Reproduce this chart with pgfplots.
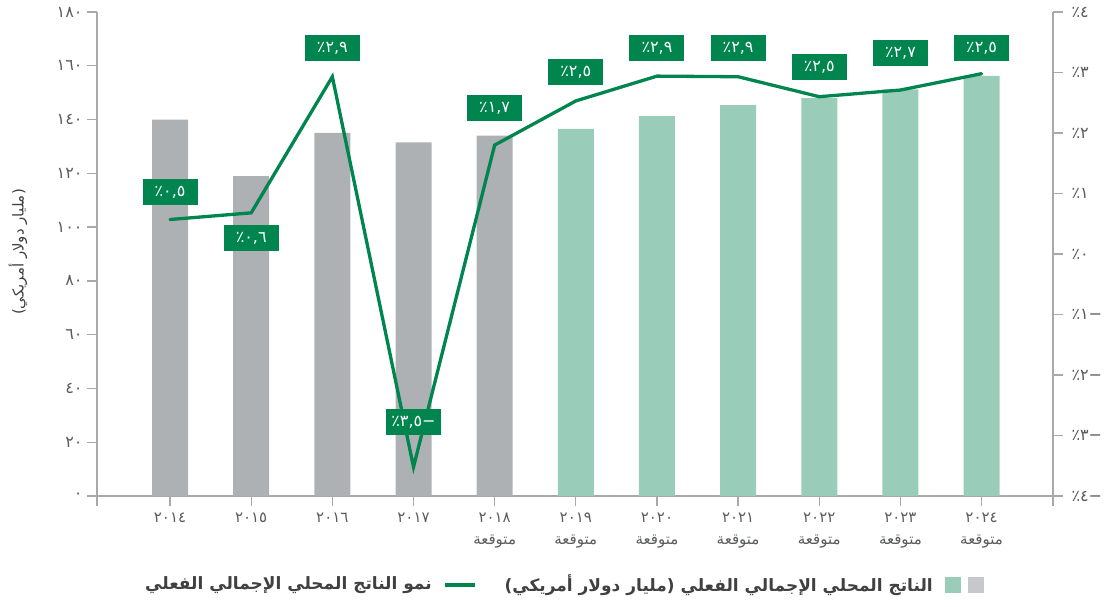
\documentclass[border=0pt]{standalone}
\usepackage{pgfplots}
\pgfplotsset{compat=1.18}
\usepackage{pgfplotstable}
\usepackage{fontspec}
\setmainfont{DejaVu Sans}
\newfontfamily\arabicfont[Script=Arabic]{DejaVu Sans}
\TeXXeTstate=1
\definecolor{bargray}{HTML}{ADB1B4}
\definecolor{barlight}{HTML}{9ACDB9}
\definecolor{dkgreen}{HTML}{00854F}
\definecolor{axisgray}{HTML}{A7A9AC}
\definecolor{ticktext}{HTML}{5A5B5D}
\definecolor{legtext}{HTML}{404040}
\definecolor{leggray}{HTML}{C7C8CA}

\pgfplotstableread{
x y
0 140
1 119
2 135
3 131.5
4 134
}\gdpactual
\pgfplotstableread{
x y
5 136.5
6 141.3
7 145.4
8 148
9 151.2
10 156.2
}\gdpforecast
\pgfplotstableread{
x y
0 0.57
1 0.68
2 2.93
3 -3.52
4 1.80
5 2.53
6 2.94
7 2.93
8 2.60
9 2.71
10 2.98
}\growth
\pgfplotstableread{
x y label
0 1.02 ٠,٥٪
1 0.26 ٠,٦٪
2 3.40 ٢,٩٪
3 -2.78 −٣,٥٪
4 2.41 ١,٧٪
5 3.01 ٢,٥٪
6 3.40 ٢,٩٪
7 3.40 ٢,٩٪
8 3.09 ٢,٥٪
9 3.32 ٢,٧٪
10 3.40 ٢,٥٪
}\growthlabels

\begin{document}
\begin{tikzpicture}
\useasboundingbox (-97pt,-111pt) rectangle (1009pt,496pt);
\begin{axis}[
  at={(0pt,0pt)}, anchor=south west,
  scale only axis, width=956pt, height=484pt,
  xmin=-0.9, xmax=10.88, ymin=0, ymax=180,
  axis x line*=bottom, axis y line*=left,
  axis line style={-, axisgray, line width=1.3pt},
  tick style={axisgray, line width=1.3pt},
  major tick length=10pt,
  tick align=outside,
  xtick={-0.9,0,1,2,3,4,5,6,7,8,9,10,10.88},
  xticklabels={,٢٠١٤,٢٠١٥,٢٠١٦,٢٠١٧,{٢٠١٨\\متوقعة},{٢٠١٩\\متوقعة},{٢٠٢٠\\متوقعة},{٢٠٢١\\متوقعة},{٢٠٢٢\\متوقعة},{٢٠٢٣\\متوقعة},{٢٠٢٤\\متوقعة},},
  xticklabel style={align=center, font=\arabicfont\fontsize{15}{22}\selectfont, text=ticktext, yshift=-3pt},
  ytick={0,20,40,60,80,100,120,140,160,180},
  yticklabels={٠,٢٠,٤٠,٦٠,٨٠,١٠٠,١٢٠,١٤٠,١٦٠,١٨٠},
  yticklabel style={font=\arabicfont\fontsize{16}{18}\selectfont, text=ticktext, xshift=-1pt},
  ybar, bar width=36pt, bar shift=0pt,
  clip=false,
]
\addplot[fill=bargray, draw=none] table[x=x,y=y] {\gdpactual};
\addplot[fill=barlight, draw=none] table[x=x,y=y] {\gdpforecast};
\end{axis}
\begin{axis}[
  at={(0pt,0pt)}, anchor=south west,
  scale only axis, width=956pt, height=484pt,
  xmin=-0.9, xmax=10.88, ymin=-4, ymax=4,
  axis x line=none, axis y line*=right,
  axis line style={-, axisgray, line width=1.3pt},
  tick style={axisgray, line width=1.3pt},
  major tick length=10pt,
  tick align=outside,
  ytick={-4,-3,-2,-1,0,1,2,3,4},
  yticklabels={−٤٪,−٣٪,−٢٪,−١٪,٠٪,١٪,٢٪,٣٪,٤٪},
  yticklabel style={font=\arabicfont\fontsize{16}{18}\selectfont, text=ticktext, anchor=west, xshift=5pt},
  clip=false,
]
\addplot[dkgreen, line width=3.3pt, mark=none, line cap=round] table[x=x,y=y] {\growth};
\addplot[draw=none, mark=none, nodes near coords, point meta=explicit symbolic,
  nodes near coords style={anchor=center, fill=dkgreen, text=white, minimum width=55pt, minimum height=26pt, inner sep=2pt,
  font=\arabicfont\fontsize{16}{18}\selectfont}] table[x=x,y=y,meta=label] {\growthlabels};
\end{axis}
\node[rotate=90, font=\arabicfont\fontsize{15}{17}\selectfont, text=legtext] at (-79pt,244pt) {\beginR (مليار دولار أمريكي)\endR};
\fill[barlight] (848pt,-97pt) rectangle (864pt,-81pt);
\fill[leggray] (871pt,-97pt) rectangle (887pt,-81pt);
\node[anchor=east, inner sep=0pt, font=\arabicfont\bfseries\fontsize{17}{20}\selectfont, text=legtext] at (836pt,-89pt) {\beginR الناتج المحلي الإجمالي الفعلي (مليار دولار أمريكي)\endR};
\draw[dkgreen, line width=3.3pt] (348pt,-89pt) -- (378pt,-89pt);
\node[anchor=east, inner sep=0pt, font=\arabicfont\bfseries\fontsize{17}{20}\selectfont, text=legtext] at (335pt,-89pt) {\beginR نمو الناتج المحلي الإجمالي الفعلي\endR};
\end{tikzpicture}
\end{document}
